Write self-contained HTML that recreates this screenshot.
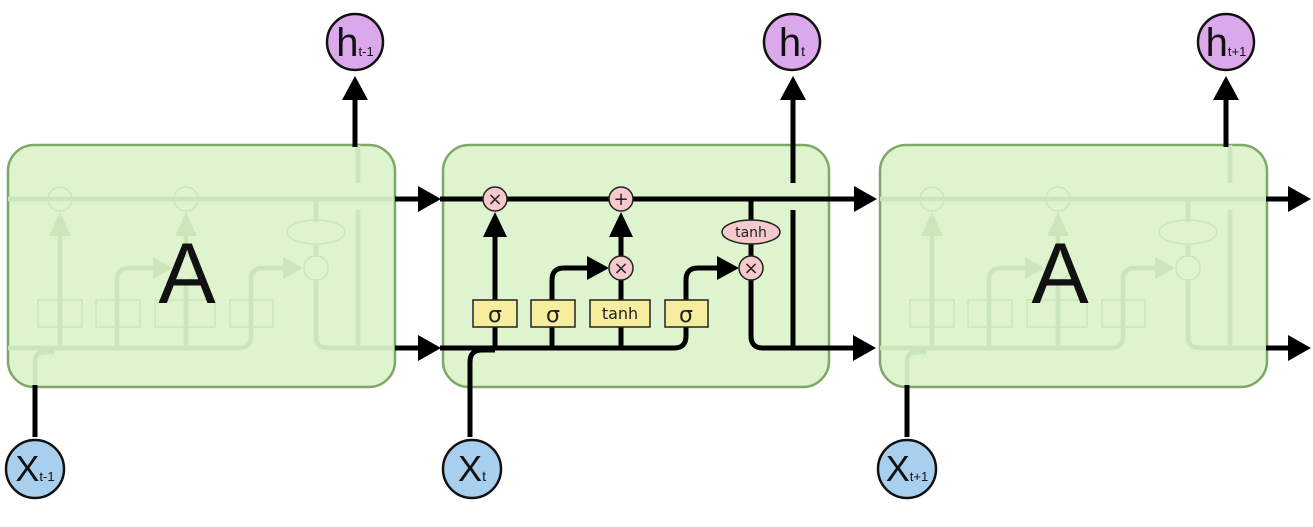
<!DOCTYPE html>
<html><head><style>
html,body{margin:0;padding:0;background:#fff;}
svg{display:block;font-family:"DejaVu Sans","Liberation Sans",sans-serif;}
</style></head><body>
<svg width="1313" height="527" viewBox="0 0 1313 527" xmlns="http://www.w3.org/2000/svg">
<defs>
<g id="int" fill="none" stroke="currentColor" stroke-width="4.5">
  <path d="M443 199 H829"/>
  <path d="M495 348 V236"/><polygon points="484,236 506,236 495,212" fill="currentColor" stroke="none"/>
  <path d="M552 348 V280 Q552 268 564 268 H590"/><polygon points="588,257 588,279 608,268" fill="currentColor" stroke="none"/>
  <path d="M621 348 V280 M621 256 V236"/><polygon points="610,236 632,236 621,212" fill="currentColor" stroke="none"/>
  <path d="M443 348 H674 Q686 348 686 336 V280 Q686 268 698 268 H720"/><polygon points="718,257 718,279 738,268" fill="currentColor" stroke="none"/>
  <path d="M751 199 V222 M751 244 V256 M751 280 V336 Q751 348 763 348 H829"/>
  <path d="M793 348 V210 M793 183 V145"/>
  <path d="M470 387 V362 Q470 352 480 352 H490"/>
  <circle cx="495" cy="199" r="12" stroke-width="1.5"/>
  <circle cx="621" cy="199" r="12" stroke-width="1.5"/>
  <circle cx="621" cy="268" r="12" stroke-width="1.5"/>
  <circle cx="751" cy="268" r="12" stroke-width="1.5"/>
  <ellipse cx="751" cy="232" rx="29" ry="12" stroke-width="1.5"/>
  <rect x="473" y="300" width="44" height="27" stroke-width="1.5"/>
  <rect x="531" y="300" width="44" height="27" stroke-width="1.5"/>
  <rect x="590" y="300" width="60" height="27" stroke-width="1.5"/>
  <rect x="665" y="300" width="43" height="27" stroke-width="1.5"/>
</g>
</defs>

<!-- Left cell -->
<rect x="8" y="145" width="387" height="242" rx="26" fill="#ddf4cf" stroke="#7fa866" stroke-width="2.5"/>
<g transform="translate(-435,0)" style="color:#cbe6ba"><use href="#int"/></g>
<text x="187" y="303" font-size="86" text-anchor="middle" fill="#111" font-family="Liberation Sans, sans-serif">A</text>

<!-- Right cell -->
<rect x="880" y="145" width="387" height="242" rx="26" fill="#ddf4cf" stroke="#7fa866" stroke-width="2.5"/>
<g transform="translate(437,0)" style="color:#cbe6ba"><use href="#int"/></g>
<text x="1060" y="303" font-size="86" text-anchor="middle" fill="#111" font-family="Liberation Sans, sans-serif">A</text>

<!-- Middle cell -->
<rect x="443" y="145" width="386" height="242" rx="26" fill="#ddf4cf" stroke="#7fa866" stroke-width="2.5"/>
<g fill="none" stroke="#000" stroke-width="5">
  <path d="M395 199 H420"/><path d="M395 348 H420"/>
  <path d="M440 199 H856"/>
  <path d="M495 348 V236"/>
  <path d="M552 348 V280 Q552 268 564 268 H590"/>
  <path d="M621 348 V280 M621 256 V236"/>
  <path d="M440 348 H674 Q686 348 686 336 V280 Q686 268 698 268 H720"/>
  <path d="M751 199 V222 M751 244 V256 M751 280 V336 Q751 348 763 348 H855"/>
  <path d="M793 348 V210 M793 183 V98"/>
  <path d="M470 437 V362 Q470 350 482 350 H495"/>
  <path d="M1266 199 H1290"/><path d="M1266 348 H1290"/>
  <path d="M355 147 V98"/><path d="M1226 147 V98"/>
  <path d="M35 437 V385"/><path d="M907 437 V385"/>
</g>
<g fill="#000">
  <polygon points="418,186 418,212 441,199"/><polygon points="418,335 418,361 441,348"/>
  <polygon points="854,186 854,212 877,199"/><polygon points="853,335 853,361 876,348"/>
  <polygon points="1288,186 1288,212 1311,199"/><polygon points="1288,335 1288,361 1311,348"/>
  <polygon points="483,237 507,237 495,212"/>
  <polygon points="587,256 587,280 609,268"/>
  <polygon points="609,237 633,237 621,212"/>
  <polygon points="717,256 717,280 739,268"/>
  <polygon points="342,100 368,100 355,76"/>
  <polygon points="780,100 806,100 793,76"/>
  <polygon points="1213,100 1239,100 1226,76"/>
</g>
<g stroke="#222" stroke-width="1.5">
  <circle cx="495" cy="199" r="12" fill="#f6c9cc"/>
  <circle cx="621" cy="199" r="12" fill="#f6c9cc"/>
  <circle cx="621" cy="268" r="12" fill="#f6c9cc"/>
  <circle cx="751" cy="268" r="12" fill="#f6c9cc"/>
  <ellipse cx="751" cy="232" rx="29" ry="12" fill="#f6c9cc"/>
  <rect x="473" y="300" width="44" height="27" fill="#f6ed9e"/>
  <rect x="531" y="300" width="44" height="27" fill="#f6ed9e"/>
  <rect x="590" y="300" width="60" height="27" fill="#f6ed9e"/>
  <rect x="665" y="300" width="43" height="27" fill="#f6ed9e"/>
</g>
<g fill="#222" text-anchor="middle">
  <text x="495" y="205" font-size="18">×</text>
  <text x="621" y="205" font-size="18">+</text>
  <text x="621" y="274" font-size="18">×</text>
  <text x="751" y="274" font-size="18">×</text>
  <text x="751" y="237" font-size="14">tanh</text>
  <text x="495" y="322" font-size="22">σ</text>
  <text x="553" y="322" font-size="22">σ</text>
  <text x="620" y="319" font-size="16">tanh</text>
  <text x="686" y="322" font-size="22">σ</text>
</g>

<!-- h circles -->
<g stroke="#111" stroke-width="2.5" fill="#dca8ec">
  <circle cx="355" cy="42" r="28"/><circle cx="792" cy="42" r="28"/><circle cx="1226" cy="42" r="28"/>
</g>
<g fill="#111" font-family="Liberation Sans, sans-serif" text-anchor="middle">
  <text x="355" y="56" font-size="40">h<tspan font-size="13">t-1</tspan></text>
  <text x="792" y="56" font-size="40">h<tspan font-size="14">t</tspan></text>
  <text x="1226" y="56" font-size="40">h<tspan font-size="13">t+1</tspan></text>
</g>
<!-- x circles -->
<g stroke="#111" stroke-width="2.5" fill="#a9cfee">
  <circle cx="35" cy="469" r="29"/><circle cx="472" cy="469" r="29"/><circle cx="907" cy="469" r="29"/>
</g>
<g fill="#111" font-family="Liberation Sans, sans-serif" text-anchor="middle">
  <text x="35" y="481" font-size="36">X<tspan font-size="13">t-1</tspan></text>
  <text x="472" y="481" font-size="36">X<tspan font-size="14">t</tspan></text>
  <text x="907" y="481" font-size="36">X<tspan font-size="13">t+1</tspan></text>
</g>
</svg>
</body></html>
